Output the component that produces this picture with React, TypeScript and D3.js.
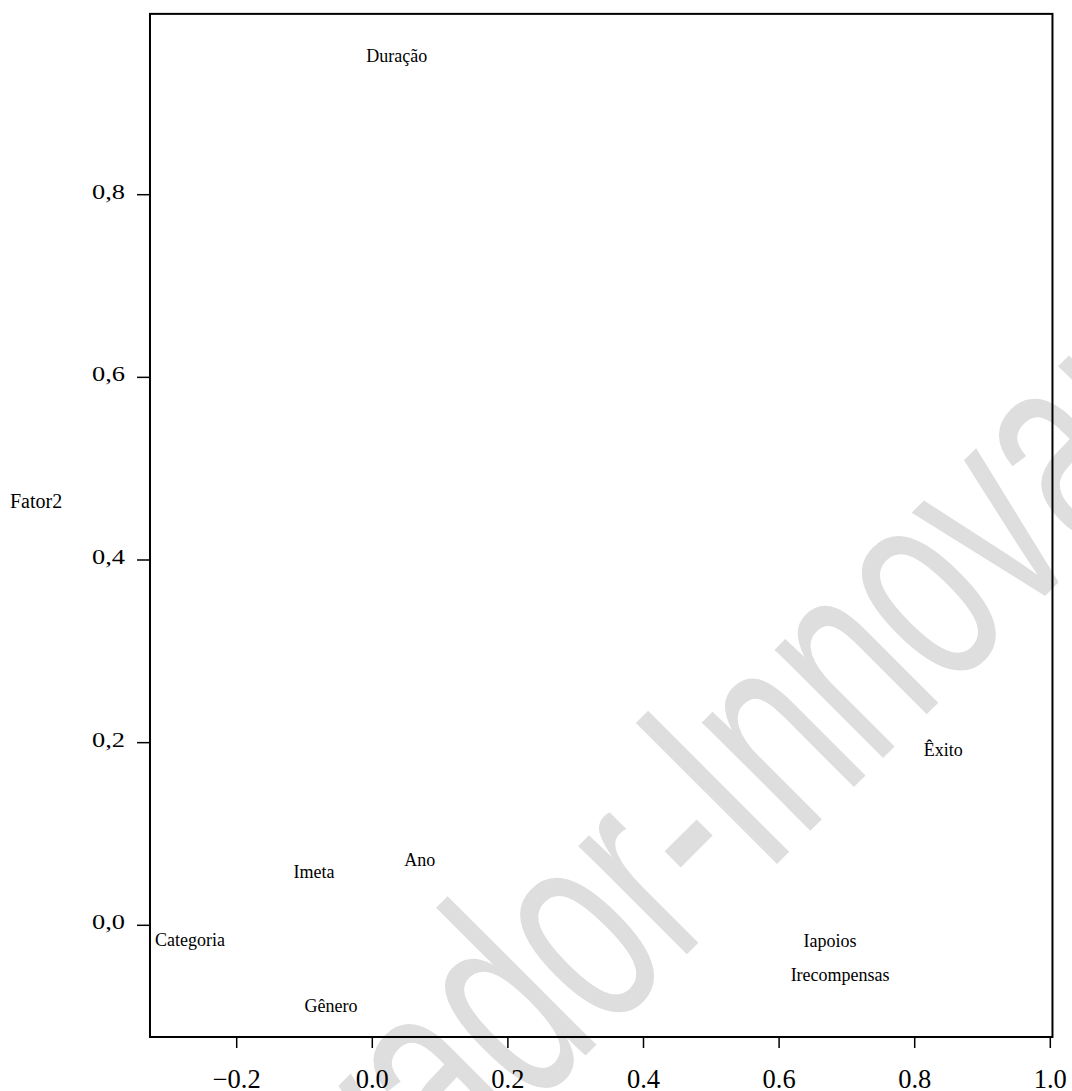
import React from "react";
import * as d3 from "d3";

const labels = ["Duração", "Categoria", "Imeta", "Ano", "Gênero", "Êxito", "Iapoios", "Irecompensas"];
const fator1 = [0.036, -0.269, -0.086, 0.070, -0.061, 0.842, 0.675, 0.690];
const fator2 = [0.952, -0.016, 0.058, 0.071, -0.088, 0.192, -0.017, -0.054];
const xTicks = [-0.2, 0.0, 0.2, 0.4, 0.6, 0.8, 1.0];
const yTicks = [0.0, 0.2, 0.4, 0.6, 0.8];
const xLimits = [-0.3279, 1.0032];
const yLimits = [-0.1223, 0.998];
const yTitle = "Fator2";
const watermark = "Salvador-Innovare";

const W = 1072;
const H = 1091;
const serif = "'Liberation Serif', 'Times New Roman', serif";

export default function App() {
  const x = d3.scaleLinear().domain([0, 1]).range([372.3, 1050.3]);
  const y = d3.scaleLinear().domain([0, 0.8]).range([925.3, 194.7]);
  const bx0 = x(xLimits[0]);
  const bx1 = x(xLimits[1]);
  const by0 = y(yLimits[1]);
  const by1 = y(yLimits[0]);
  const fmtX = (v: number) => d3.format(".1f")(v).replace("-", "−");
  const fmtY = (v: number) => d3.format(".1f")(v).replace(".", ",");

  return (
    <svg
      width={W}
      height={H}
      viewBox={`0 0 ${W} ${H}`}
      style={{ position: "absolute", left: 0, top: 0, background: "#fff" }}
    >
      <rect x={0} y={0} width={W} height={H} fill="#fff" />
      <text
        transform="translate(205,1436) rotate(-45) scale(0.638,1)"
        fontFamily="'Liberation Sans', Arial, sans-serif"
        fontSize={290}
        fill="#dedede"
      >
        {watermark}
      </text>

      <rect x={bx0} y={by0} width={bx1 - bx0} height={by1 - by0} fill="none" stroke="#000" strokeWidth={2} />

      {xTicks.map((t) => (
        <g key={"x" + t}>
          <line x1={x(t)} x2={x(t)} y1={by1} y2={by1 + 11} stroke="#000" strokeWidth={1.5} />
          <text x={x(t)} y={1088} textAnchor="middle" fontFamily={serif} fontSize={26.5} fill="#000">
            {fmtX(t)}
          </text>
        </g>
      ))}

      {yTicks.map((t) => (
        <g key={"y" + t}>
          <line x1={bx0 - 13} x2={bx0} y1={y(t)} y2={y(t)} stroke="#000" strokeWidth={1.5} />
          <text
            x={125}
            y={y(t) + 4}
            textAnchor="end"
            fontFamily={serif}
            fontSize={20}
            fill="#000"
            textLength={33}
            lengthAdjust="spacingAndGlyphs"
          >
            {fmtY(t)}
          </text>
        </g>
      ))}

      <text x={10} y={508} fontFamily={serif} fontSize={20} fill="#000">
        {yTitle}
      </text>

      {labels.map((l, i) => (
        <text
          key={l}
          x={x(fator1[i])}
          y={y(fator2[i]) + 6}
          textAnchor="middle"
          fontFamily={serif}
          fontSize={18}
          fill="#000"
        >
          {l}
        </text>
      ))}
    </svg>
  );
}
